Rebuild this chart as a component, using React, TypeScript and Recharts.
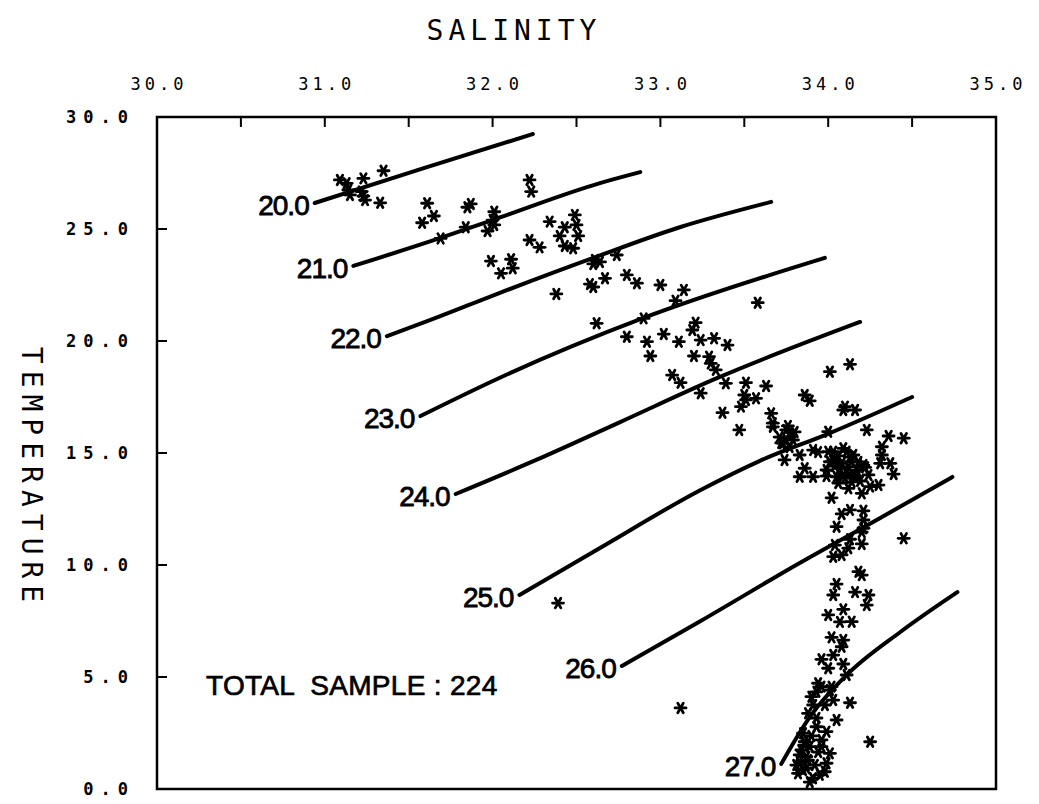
import { ScatterChart, Scatter, XAxis, YAxis, ReferenceArea, ReferenceDot } from "recharts";

// salinity ticks along the top (labelled on whole units), temperature ticks on the left
const salinityTicks = [30, 30.5, 31, 31.5, 32, 32.5, 33, 33.5, 34, 34.5, 35];
const temperatureTicks = [0, 5, 10, 15, 20, 25, 30];

// sigma-t curves, [salinity, temperature]
const sigma20 = [[30.94, 26.16], [31.59, 27.72], [32.24, 29.24]];
const sigma21 = [[31.17, 23.35], [31.69, 24.6], [32.0, 25.4], [32.64, 27.05], [32.88, 27.54]];
const sigma22 = [[31.37, 20.22], [31.63, 20.94], [32.04, 22.14], [32.6, 23.71], [33.12, 25.09], [33.66, 26.21]];
const sigma23 = [[31.57, 16.65], [32.04, 18.35], [32.9, 21.03], [33.98, 23.71]];
const sigma24 = [[31.78, 13.17], [32.26, 14.69], [32.76, 16.38], [33.34, 18.35], [34.19, 20.85]];
const sigma25 = [[32.16, 8.66], [32.64, 10.76], [33.24, 13.35], [33.59, 14.64], [34.01, 15.89], [34.5, 17.5]];
const sigma26 = [[32.77, 5.49], [33.24, 7.5], [33.83, 10.09], [34.31, 12.1], [34.74, 13.93]];
const sigma27 = [[33.72, 1.12], [33.89, 3.21], [34.11, 5.09], [34.43, 7.01], [34.77, 8.79]];
const sigmaLabels = ["20.0", "21.0", "22.0", "23.0", "24.0", "25.0", "26.0", "27.0"];

// samples: [salinity, temperature]
const surfaceSamples = [
  [31.09, 27.19], [31.13, 27.04], [31.23, 27.26], [31.35, 27.6], [31.15, 26.52], [31.22, 26.67],
  [31.24, 26.29], [31.33, 26.17], [31.23, 26.47], [31.14, 26.74],
  [31.61, 26.15], [31.58, 25.28], [31.65, 25.58], [31.85, 25.97], [31.84, 25.08], [31.69, 24.58],
  [32.01, 25.77], [32.0, 25.4], [32.01, 25.18], [31.97, 24.91], [32.22, 27.19], [32.23, 26.67],
  [31.87, 26.12],
  [32.34, 25.33], [32.49, 25.63], [32.43, 25.08], [32.4, 24.69], [32.51, 24.69], [32.22, 24.51],
  [32.28, 24.18], [32.43, 24.24], [32.48, 24.14], [31.99, 23.57], [32.11, 23.65], [32.12, 23.25],
  [32.05, 23.02], [32.38, 22.1], [32.58, 22.54], [32.61, 23.62], [32.64, 23.53], [32.5, 25.18],
];

const upperSamples = [
  [32.6, 23.44], [32.74, 23.84], [32.67, 22.8], [32.8, 22.95], [32.86, 22.58], [33.0, 22.5],
  [33.14, 22.28], [33.09, 21.8], [32.6, 22.41], [33.58, 21.71], [32.62, 20.79], [32.9, 21.01],
  [32.8, 20.19], [32.92, 19.97], [33.02, 20.31], [33.11, 19.97], [33.21, 20.82], [33.19, 20.49],
  [33.32, 20.12], [33.4, 19.82], [32.94, 19.33], [33.2, 19.33], [33.29, 19.3], [33.3, 19.0],
  [33.33, 18.71], [33.07, 18.48], [33.12, 18.14], [33.39, 18.11], [33.24, 17.67], [33.51, 18.14],
  [33.63, 17.99], [33.51, 17.37], [33.48, 17.07], [33.57, 17.44], [33.37, 16.8], [33.47, 16.03],
  [33.86, 17.59], [33.89, 17.33], [34.01, 18.63], [34.13, 18.96], [34.09, 16.92], [34.16, 16.92],
  [33.66, 16.77], [33.67, 16.33], [33.75, 16.03], [33.77, 15.73], [33.73, 15.43], [33.79, 15.58],
  [33.91, 15.13], [34.03, 15.06], [34.09, 15.21], [34.0, 15.95], [33.83, 14.91], [33.24, 20.04],
  [33.5, 17.59], [33.67, 16.17], [33.72, 15.45], [34.1, 17.07], [34.23, 16.03], [34.36, 15.76],
  [34.45, 15.66], [33.76, 16.21], [33.8, 15.94], [33.71, 15.71], [33.77, 15.27],
];

const coreSamples = [
  [33.74, 14.69], [33.94, 15.04], [33.86, 14.32], [33.83, 13.94], [33.91, 13.94], [34.11, 15.06],
  [34.01, 14.61], [33.99, 14.24], [34.07, 14.32], [34.12, 14.39], [34.17, 14.24], [34.15, 14.02],
  [34.21, 14.46], [34.05, 13.94], [34.11, 14.09], [34.03, 14.69], [34.08, 14.54], [34.14, 14.61],
  [34.17, 13.94], [34.0, 15.06], [34.09, 14.02], [34.22, 14.36], [34.32, 15.28], [34.32, 14.91],
  [34.31, 14.54], [34.37, 14.54], [34.39, 14.06], [34.3, 13.57], [34.25, 13.5], [34.2, 13.2],
  [34.12, 13.42], [34.02, 13.0], [34.06, 14.87], [34.13, 14.82], [34.18, 14.6], [34.04, 14.42],
  [34.1, 13.88], [34.14, 13.71], [33.99, 13.97], [34.19, 13.75], [34.06, 13.66], [34.24, 14.02],
  [34.15, 14.91],
];

const deepSamples = [
  [34.08, 12.28], [34.13, 12.46], [34.21, 12.42], [34.21, 12.01], [34.21, 11.64], [34.05, 11.71],
  [34.13, 11.15], [34.12, 10.75], [34.2, 10.94], [34.03, 10.37], [34.08, 10.45], [34.45, 11.19],
  [34.18, 9.7], [34.2, 9.55], [34.05, 9.15], [34.03, 8.66], [34.24, 8.66], [34.23, 8.21],
  [34.09, 8.02], [34.0, 7.77], [34.14, 7.47], [34.2, 11.47], [34.04, 10.89], [34.16, 8.79],
  [34.07, 7.46], [32.39, 8.3], [33.12, 3.62],
  [34.02, 6.77], [34.09, 6.65], [34.08, 6.35], [34.03, 5.98], [33.96, 5.79], [34.0, 5.39],
  [34.09, 5.58], [34.11, 5.09], [33.94, 4.72], [33.96, 4.57], [33.93, 4.34], [34.02, 4.57],
  [34.03, 3.97], [34.13, 3.85], [33.9, 4.12], [33.91, 3.75], [33.88, 3.38], [34.05, 3.08],
  [33.99, 2.56], [33.93, 2.78], [34.25, 2.11], [33.85, 2.49], [33.86, 2.11], [33.84, 1.74],
  [33.87, 1.44], [33.83, 1.22], [33.85, 0.85], [33.89, 1.89], [33.88, 1.29], [33.96, 1.89],
  [34.01, 1.59], [33.99, 1.15], [33.98, 0.77], [33.82, 0.7], [33.91, 0.48], [33.87, 0.92],
  [33.9, 2.37], [33.94, 1.65], [33.86, 1.96], [33.92, 1.07], [33.95, 0.63], [33.83, 1.52],
  [33.89, 0.31], [33.96, 2.19], [33.81, 1.07], [33.93, 3.17], [34.01, 4.42], [33.98, 3.75],
];

const toPoints = (rows: number[][]) => rows.map(([s, t]) => ({ s, t }));
const isopycnals = [sigma20, sigma21, sigma22, sigma23, sigma24, sigma25, sigma26, sigma27].map(toPoints);
const samples = toPoints([...surfaceSamples, ...upperSamples, ...coreSamples, ...deepSamples]);

const plotterFont = "'DejaVu Sans Mono', monospace";
const labelFont = "'Liberation Sans', Arial, sans-serif";

function TopTick(props: any) {
  const { x, y, payload } = props;
  const v = payload.value;
  return (
    <g>
      <line x1={x} y1={y} x2={x} y2={y + 10} stroke="#000" strokeWidth={2} />
      {Number.isInteger(v) && (
        <text x={x + 2} y={y - 27} textAnchor="middle" fontFamily={plotterFont} fontSize={17} letterSpacing={4} fill="#000">
          {v.toFixed(1)}
        </text>
      )}
    </g>
  );
}

function LeftTick(props: any) {
  const { x, y, payload } = props;
  return (
    <g>
      <line x1={x} y1={y} x2={x + 10} y2={y} stroke="#000" strokeWidth={2} />
      <text x={x - 22} y={y + 6} textAnchor="end" fontFamily={plotterFont} fontWeight="bold" fontSize={17} letterSpacing={7} fill="#000">
        {payload.value.toFixed(1)}
      </text>
    </g>
  );
}

function Asterisk(props: any) {
  const { cx, cy } = props;
  if (cx == null || cy == null) return <g />;
  const r = 5.5;
  const dx = r * 0.5;
  const dy = r * 0.866;
  return (
    <g stroke="#000" strokeWidth={2.8} strokeLinecap="round">
      <line x1={cx - r} y1={cy} x2={cx + r} y2={cy} />
      <line x1={cx - dx} y1={cy - dy} x2={cx + dx} y2={cy + dy} />
      <line x1={cx - dx} y1={cy + dy} x2={cx + dx} y2={cy - dy} />
    </g>
  );
}

export default function App() {
  return (
    <div style={{ position: "absolute", left: 0, top: 0, width: 1039, height: 804, background: "#fff" }}>
      <ScatterChart width={1039} height={804} margin={{ top: 77, right: 43, bottom: 15, left: 57 }}>
        <XAxis
          type="number"
          dataKey="s"
          orientation="top"
          domain={[30, 35]}
          ticks={salinityTicks}
          height={40}
          axisLine={false}
          tickLine={false}
          tickSize={0}
          tickMargin={0}
          interval={0}
          tick={(p: any) => <TopTick {...p} />}
        />
        <YAxis
          type="number"
          dataKey="t"
          domain={[0, 30]}
          ticks={temperatureTicks}
          width={100}
          axisLine={false}
          tickLine={false}
          tickSize={0}
          tickMargin={0}
          interval={0}
          tick={(p: any) => <LeftTick {...p} />}
        />
        <ReferenceArea x1={30} x2={35} y1={0} y2={30} fill="none" stroke="#000" strokeWidth={2.5} />
        {isopycnals.map((pts, i) => (
          <Scatter
            key={sigmaLabels[i]}
            data={pts}
            line={{ stroke: "#000", strokeWidth: 4, strokeLinecap: "round" }}
            lineJointType="monotoneX"
            shape={() => <g />}
            isAnimationActive={false}
          />
        ))}
        {isopycnals.map((pts, i) => (
          <ReferenceDot
            key={`lab-${sigmaLabels[i]}`}
            x={pts[0].s}
            y={pts[0].t}
            r={1}
            shape={() => <g />}
            label={{
              content: ({ viewBox }: any) => (
                <text
                  x={viewBox.x - 5}
                  y={viewBox.y + viewBox.height / 2 + 12}
                  textAnchor="end"
                  fontFamily={labelFont}
                  fontSize={28}
                  letterSpacing={-1}
                  fill="#000"
                  stroke="#000"
                  strokeWidth={0.8}
                >
                  {sigmaLabels[i]}
                </text>
              ),
            }}
          />
        ))}
        <Scatter data={samples} shape={(p: any) => <Asterisk {...p} />} isAnimationActive={false} />
      </ScatterChart>
      <svg width={1039} height={804} style={{ position: "absolute", left: 0, top: 0, pointerEvents: "none" }}>
        <text x={514} y={40} textAnchor="middle" fontFamily={plotterFont} fontSize={28} letterSpacing={5} fill="#000">
          SALINITY
        </text>
        <text
          x={0}
          y={0}
          transform="translate(22 478) rotate(90)"
          textAnchor="middle"
          fontFamily={plotterFont}
          fontSize={28}
          letterSpacing={7}
          fill="#000"
        >
          TEMPERATURE
        </text>
        <text
          x={206}
          y={695}
          fontFamily={labelFont}
          fontSize={28}
          letterSpacing={0.3}
          fill="#000"
          stroke="#000"
          strokeWidth={0.7}
          style={{ whiteSpace: "pre" }}
        >
          {"TOTAL  SAMPLE : 224"}
        </text>
      </svg>
    </div>
  );
}
